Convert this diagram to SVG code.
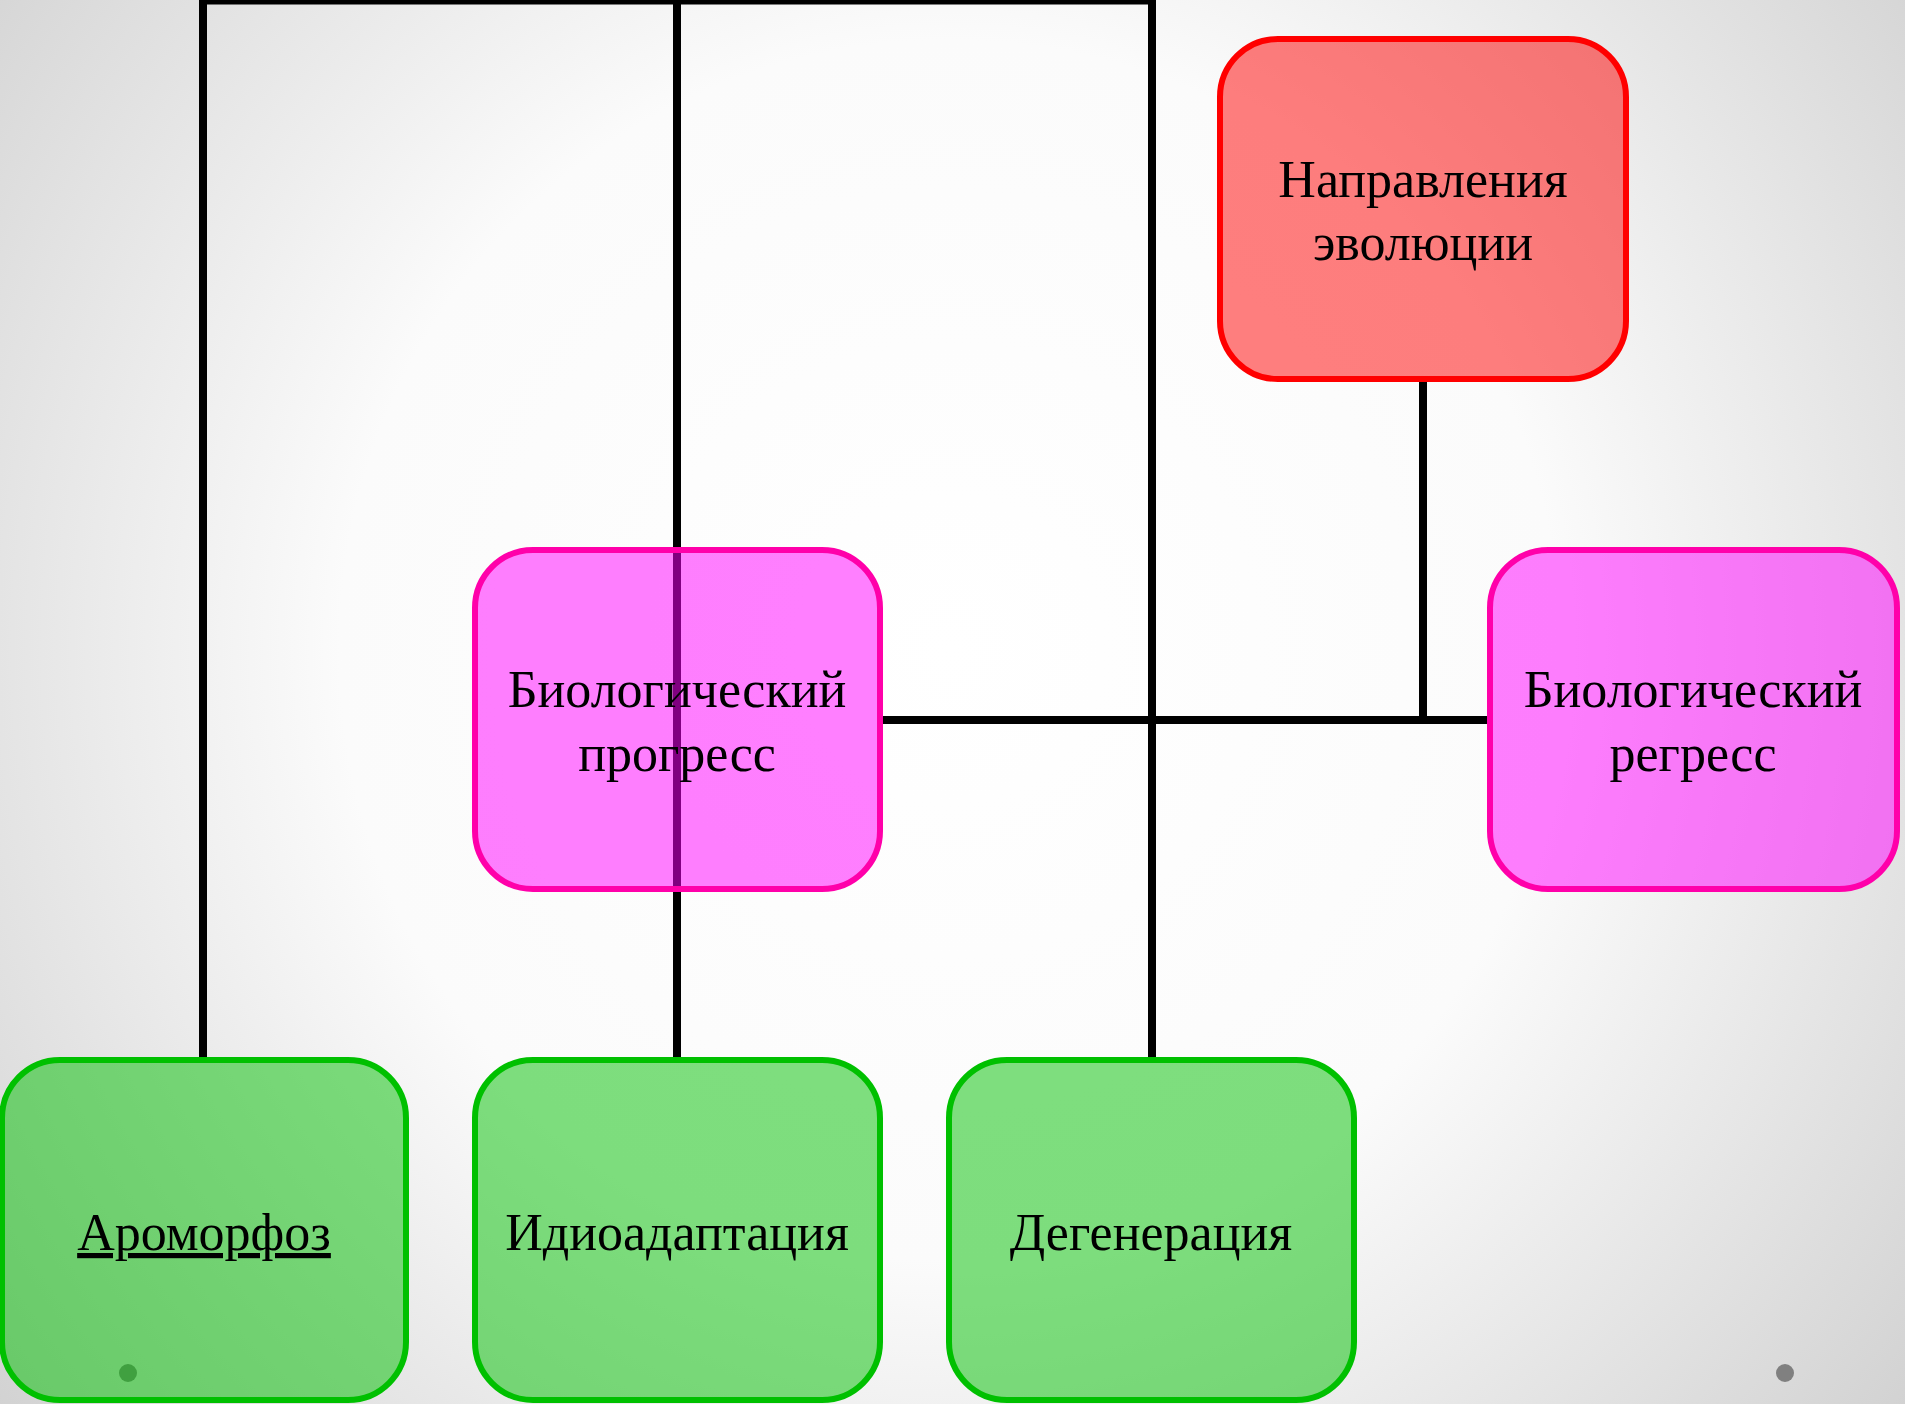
<svg xmlns="http://www.w3.org/2000/svg" width="1905" height="1404" viewBox="0 0 1905 1404">
<defs>
<radialGradient id="bg" gradientUnits="userSpaceOnUse" cx="950" cy="650" r="1220">
<stop offset="0" stop-color="#ffffff"/>
<stop offset="0.5" stop-color="#fbfbfb"/>
<stop offset="1" stop-color="#d2d2d2"/>
</radialGradient>
<style>
.box{stroke-width:6}
.red{fill:rgba(255,0,0,0.5);stroke:#ff0000}
.pink{fill:rgba(255,0,255,0.5);stroke:#ff00aa}
.green{fill:rgba(0,192,0,0.5);stroke:#00c000}
.lbl{font-family:"Liberation Serif","DejaVu Serif",serif;font-size:52px;fill:#000;text-anchor:middle}
.con{stroke:#000;stroke-width:8;fill:none}
</style>
</defs>
<rect x="0" y="0" width="1905" height="1404" fill="url(#bg)"/>
<circle cx="128" cy="1373" r="9" fill="#808080"/>
<circle cx="1785" cy="1373" r="9" fill="#808080"/>
<g id="connectors">
<path class="con" d="M203 1057 V0.5 H1152 V1057"/>
<path class="con" d="M677 0.5 V1057"/>
<path class="con" d="M883 720 H1487"/>
<path class="con" d="M1423 382 V720"/>
</g>
<g id="node-napravleniya">
<rect class="box red" x="1220" y="39" width="406" height="340" rx="58"/>
<text class="lbl" x="1423" y="197">Направления</text>
<text class="lbl" x="1423" y="260">эволюции</text>
</g>
<g id="node-progress">
<rect class="box pink" x="475" y="550" width="405" height="339" rx="58"/>
<text class="lbl" x="677" y="707">Биологический</text>
<text class="lbl" x="677" y="771">прогресс</text>
</g>
<g id="node-regress">
<rect class="box pink" x="1490" y="550" width="407" height="339" rx="58"/>
<text class="lbl" x="1693" y="707">Биологический</text>
<text class="lbl" x="1693" y="771">регресс</text>
</g>
<g id="node-aromorfoz">
<rect class="box green" x="2" y="1060" width="404" height="340" rx="58"/>
<text class="lbl" x="204" y="1250" text-decoration="underline">Ароморфоз</text>
</g>
<g id="node-idioadaptaciya">
<rect class="box green" x="475" y="1060" width="405" height="340" rx="58"/>
<text class="lbl" x="677" y="1250">Идиоадаптация</text>
</g>
<g id="node-degeneraciya">
<rect class="box green" x="949" y="1060" width="405" height="340" rx="58"/>
<text class="lbl" x="1151" y="1250">Дегенерация</text>
</g>
</svg>
